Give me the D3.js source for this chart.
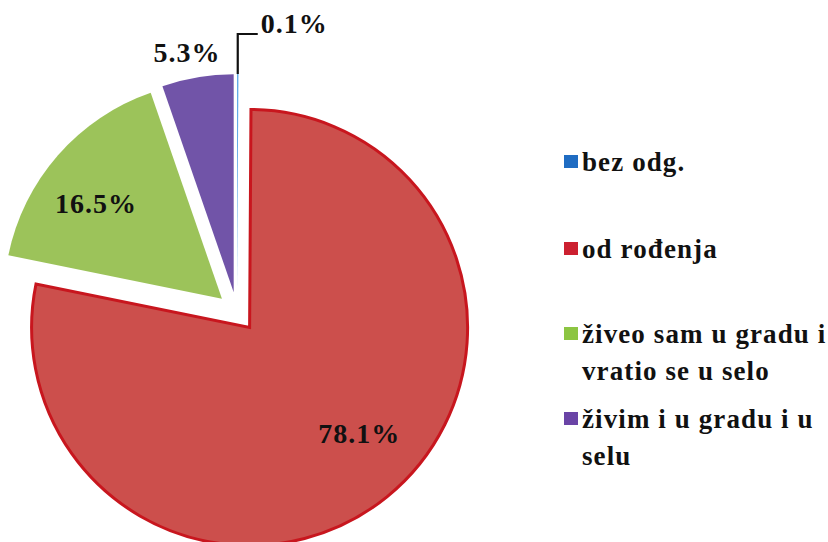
<!DOCTYPE html>
<html>
<head>
<meta charset="utf-8">
<script src="https://cdn.jsdelivr.net/npm/d3@7"></script>
<style>
  html, body { margin: 0; padding: 0; background: #ffffff; }
  svg { display: block; }
</style>
</head>
<body>
<svg id="chart" width="828" height="542"></svg>
<script>
// ---- data ----
const categories = ["bez odg.", "od rođenja", "živeo sam u gradu i vratio se u selo", "živim i u gradu i u selu"];
const values = [0.1, 78.1, 16.5, 5.3];
const valueLabels = ["0.1%", "78.1%", "16.5%", "5.3%"];
const legendLines = [["bez odg."], ["od rođenja"], ["živeo sam u gradu i", "vratio se u selo"], ["živim i u gradu i u", "selu"]];

// ---- styles ----
const FONT = '"Liberation Serif", "Times New Roman", Tinos, serif';
const sliceColors = ["#5aa6e6", "#cc4f4c", "#9cc35a", "#7154a8"];
const legendColors = ["#1f6cc2", "#cc2030", "#8cc542", "#6a44a6"];
const sliceStroke = [null, "#c8161e", null, null];

// ---- layout ----
const W = 828, H = 542;
const cx = 237, cy = 312, R = 218, explode = 20;
// label placement per slice: radius factor and angle shift (degrees)
const labelRadius = [1.0, 0.70, 0.725, 1.12];
const labelShift = [0, -6.9, -4, -1.5];

const svg = d3.select("#chart");
svg.append("rect").attr("width", W).attr("height", H).attr("fill", "#ffffff");

const pie = d3.pie().sort(null).value(d => d).startAngle(0).endAngle(2 * Math.PI);
const arcs = pie(values);
const arcGen = d3.arc().innerRadius(0).outerRadius(R);

function offsetOf(d) {
  const mid = (d.startAngle + d.endAngle) / 2;
  return [Math.sin(mid) * explode, -Math.cos(mid) * explode];
}

function styleText(sel, size, spacing) {
  return sel.style("font-family", FONT).style("font-weight", "bold")
    .style("font-size", size + "px").style("letter-spacing", spacing + "px")
    .attr("fill", "#111");
}

const g = svg.append("g").attr("transform", `translate(${cx},${cy})`);

g.selectAll("path.slice")
  .data(arcs)
  .join("path")
  .attr("class", "slice")
  .attr("transform", d => { const o = offsetOf(d); return `translate(${o[0]},${o[1]})`; })
  .attr("d", arcGen)
  .attr("fill", (d, i) => sliceColors[i])
  .attr("stroke", (d, i) => sliceStroke[i] || "none")
  .attr("stroke-width", 3)
  .attr("stroke-linejoin", "miter");

// labels
arcs.forEach((d, i) => {
  const o = offsetOf(d);
  const mid = (d.startAngle + d.endAngle) / 2 + labelShift[i] * Math.PI / 180;
  const rr = R * labelRadius[i];
  if (i === 0) {
    const sx = o[0] + Math.sin(mid) * R;
    const sy = o[1] - Math.cos(mid) * R;
    const ty = sy - 40, tx = sx + 20;
    g.append("path")
      .attr("d", d3.line()([[sx, sy], [sx, ty], [tx, ty]]))
      .attr("fill", "none").attr("stroke", "#111").attr("stroke-width", 2.2);
    styleText(g.append("text"), 28, 1)
      .attr("x", tx + 3).attr("y", ty - 1)
      .text(valueLabels[i]);
  } else {
    const lx = o[0] + Math.sin(mid) * rr;
    const ly = o[1] - Math.cos(mid) * rr;
    styleText(g.append("text"), 28, 1)
      .attr("x", lx).attr("y", ly)
      .attr("text-anchor", "middle").attr("dy", "0.35em")
      .text(valueLabels[i]);
  }
});

// legend
const legendBaselines = [171, 258, 343, 428];
const lineGap = 37;
const legend = svg.append("g");
categories.forEach((c, i) => {
  const by = legendBaselines[i];
  legend.append("rect")
    .attr("x", 564).attr("y", by - 16).attr("width", 14).attr("height", 13)
    .attr("fill", legendColors[i]);
  const t = styleText(legend.append("text"), 27, 1.1)
    .attr("x", 582).attr("y", by);
  legendLines[i].forEach((ln, j) => {
    t.append("tspan").attr("x", 582).attr("y", by + j * lineGap).text(ln);
  });
});
</script>
</body>
</html>
